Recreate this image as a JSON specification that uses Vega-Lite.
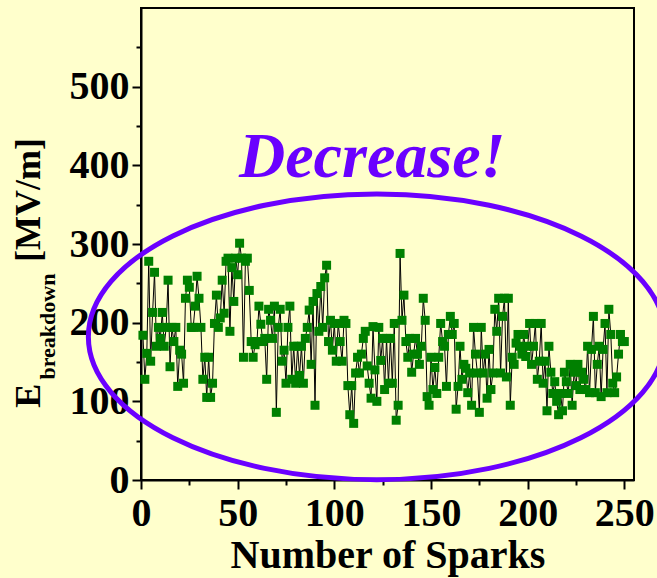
{
  "$schema": "https://vega.github.io/schema/vega-lite/v6.json",
  "width": 493,
  "height": 472,
  "autosize": {"type": "none"},
  "padding": {"left": 141, "top": 8, "right": 23, "bottom": 98},
  "background": "#FFFFCC",
  "config": {
    "view": {"stroke": "#000000", "strokeWidth": 2},
    "axis": {
      "domainColor": "#000000", "domainWidth": 2,
      "tickColor": "#000000", "tickWidth": 2,
      "labelFont": "Liberation Serif", "labelFontWeight": "bold", "labelFontSize": 40, "labelColor": "#000000",
      "titleFont": "Liberation Serif", "titleFontWeight": "bold", "titleFontSize": 40, "titleColor": "#000000",
      "grid": false, "labelOverlap": false, "labelFlush": false
    }
  },
  "datasets": {
    "sparks": [
      {"n":1,"e":184},{"n":2,"e":128},{"n":3,"e":161},{"n":4,"e":278},{"n":5,"e":151},{"n":6,"e":213},{"n":7,"e":264},{"n":8,"e":170},{"n":9,"e":194},{"n":10,"e":180},
      {"n":11,"e":213},{"n":12,"e":170},{"n":13,"e":194},{"n":14,"e":254},{"n":15,"e":144},{"n":16,"e":194},{"n":17,"e":176},{"n":18,"e":194},{"n":19,"e":119},{"n":20,"e":165},
      {"n":21,"e":160},{"n":22,"e":123},{"n":23,"e":231},{"n":24,"e":254},{"n":25,"e":245},{"n":26,"e":194},{"n":27,"e":194},{"n":28,"e":221},{"n":29,"e":259},{"n":30,"e":231},
      {"n":31,"e":194},{"n":32,"e":128},{"n":33,"e":156},{"n":34,"e":105},{"n":35,"e":156},{"n":36,"e":105},{"n":37,"e":123},{"n":38,"e":199},{"n":39,"e":235},{"n":40,"e":194},
      {"n":41,"e":206},{"n":42,"e":254},{"n":43,"e":212},{"n":44,"e":278},{"n":45,"e":282},{"n":46,"e":189},{"n":47,"e":270},{"n":48,"e":227},{"n":49,"e":282},{"n":50,"e":261},
      {"n":51,"e":301},{"n":52,"e":282},{"n":53,"e":156},{"n":54,"e":278},{"n":55,"e":282},{"n":56,"e":241},{"n":57,"e":176},{"n":58,"e":156},{"n":59,"e":172},{"n":60,"e":176},
      {"n":61,"e":221},{"n":62,"e":198},{"n":63,"e":176},{"n":64,"e":180},{"n":65,"e":128},{"n":66,"e":217},{"n":67,"e":203},{"n":68,"e":180},{"n":69,"e":221},{"n":70,"e":86},
      {"n":71,"e":194},{"n":72,"e":217},{"n":73,"e":151},{"n":74,"e":165},{"n":75,"e":123},{"n":76,"e":194},{"n":77,"e":221},{"n":78,"e":128},{"n":79,"e":170},{"n":80,"e":123},
      {"n":81,"e":170},{"n":82,"e":133},{"n":83,"e":170},{"n":84,"e":123},{"n":85,"e":180},{"n":86,"e":194},{"n":87,"e":216},{"n":88,"e":147},{"n":89,"e":227},{"n":90,"e":95},
      {"n":91,"e":237},{"n":92,"e":189},{"n":93,"e":246},{"n":94,"e":194},{"n":95,"e":257},{"n":96,"e":273},{"n":97,"e":176},{"n":98,"e":203},{"n":99,"e":165},{"n":100,"e":199},
      {"n":101,"e":151},{"n":102,"e":199},{"n":103,"e":176},{"n":104,"e":151},{"n":105,"e":203},{"n":106,"e":199},{"n":107,"e":120},{"n":108,"e":83},{"n":109,"e":120},{"n":110,"e":72},
      {"n":111,"e":136},{"n":112,"e":156},{"n":113,"e":136},{"n":114,"e":160},{"n":115,"e":180},{"n":116,"e":189},{"n":117,"e":145},{"n":118,"e":123},{"n":119,"e":104},{"n":120,"e":195},
      {"n":121,"e":140},{"n":122,"e":100},{"n":123,"e":194},{"n":124,"e":152},{"n":125,"e":180},{"n":126,"e":115},{"n":127,"e":180},{"n":128,"e":123},{"n":129,"e":180},{"n":130,"e":123},
      {"n":131,"e":199},{"n":132,"e":76},{"n":133,"e":95},{"n":134,"e":288},{"n":135,"e":203},{"n":136,"e":235},{"n":137,"e":176},{"n":138,"e":156},{"n":139,"e":180},{"n":140,"e":137},
      {"n":141,"e":160},{"n":142,"e":180},{"n":143,"e":160},{"n":144,"e":147},{"n":145,"e":170},{"n":146,"e":231},{"n":147,"e":203},{"n":148,"e":106},{"n":149,"e":95},{"n":150,"e":156},
      {"n":151,"e":115},{"n":152,"e":143},{"n":153,"e":110},{"n":154,"e":156},{"n":155,"e":199},{"n":156,"e":176},{"n":157,"e":170},{"n":158,"e":119},{"n":159,"e":185},{"n":160,"e":208},
      {"n":161,"e":185},{"n":162,"e":199},{"n":163,"e":90},{"n":164,"e":119},{"n":165,"e":170},{"n":166,"e":128},{"n":167,"e":147},{"n":168,"e":142},{"n":169,"e":111},{"n":170,"e":136},
      {"n":171,"e":95},{"n":172,"e":194},{"n":173,"e":160},{"n":174,"e":136},{"n":175,"e":86},{"n":176,"e":194},{"n":177,"e":136},{"n":178,"e":160},{"n":179,"e":104},{"n":180,"e":166},
      {"n":181,"e":115},{"n":182,"e":136},{"n":183,"e":217},{"n":184,"e":189},{"n":185,"e":231},{"n":186,"e":136},{"n":187,"e":208},{"n":188,"e":231},{"n":189,"e":131},{"n":190,"e":231},
      {"n":191,"e":95},{"n":192,"e":156},{"n":193,"e":147},{"n":194,"e":174},{"n":195,"e":185},{"n":196,"e":170},{"n":197,"e":160},{"n":198,"e":185},{"n":199,"e":157},{"n":200,"e":170},
      {"n":201,"e":199},{"n":202,"e":147},{"n":203,"e":170},{"n":204,"e":199},{"n":205,"e":128},{"n":206,"e":151},{"n":207,"e":199},{"n":208,"e":123},{"n":209,"e":151},{"n":210,"e":88},
      {"n":211,"e":170},{"n":212,"e":137},{"n":213,"e":110},{"n":214,"e":125},{"n":215,"e":100},{"n":216,"e":83},{"n":217,"e":110},{"n":218,"e":88},{"n":219,"e":137},{"n":220,"e":125},
      {"n":221,"e":110},{"n":222,"e":147},{"n":223,"e":95},{"n":224,"e":137},{"n":225,"e":120},{"n":226,"e":147},{"n":227,"e":115},{"n":228,"e":137},{"n":229,"e":128},{"n":230,"e":115},
      {"n":231,"e":170},{"n":232,"e":111},{"n":233,"e":166},{"n":234,"e":208},{"n":235,"e":111},{"n":236,"e":147},{"n":237,"e":170},{"n":238,"e":106},{"n":239,"e":166},{"n":240,"e":199},
      {"n":241,"e":111},{"n":242,"e":217},{"n":243,"e":185},{"n":244,"e":123},{"n":245,"e":111},{"n":246,"e":131},{"n":247,"e":160},{"n":248,"e":185},{"n":249,"e":176},{"n":250,"e":176}
    ],
    "ellipse": [{"n": 122, "e": 182}],
    "note": [{"n": 119.6, "e": 385, "label": "Decrease!"}],
    "ytitle": [
      {"n": -52, "e": 107, "label": "E", "size": "big"},
      {"n": -44.5, "e": 195, "label": "breakdown", "size": "small"},
      {"n": -52, "e": 356, "label": "[MV/m]", "size": "big"}
    ]
  },
  "layer": [
    {
      "data": {"name": "sparks"},
      "mark": {"type": "line", "color": "#000000", "strokeWidth": 1},
      "encoding": {
        "x": {
          "field": "n", "type": "quantitative",
          "scale": {"domain": [0, 255], "nice": false, "zero": false},
          "axis": {
            "title": "Number of Sparks",
            "values": [0, 25, 50, 75, 100, 125, 150, 175, 200, 225, 250],
            "labelExpr": "datum.value % 50 === 0 ? datum.label : ''",
            "tickSize": {"condition": {"test": "datum.value % 50 !== 0", "value": 5}, "value": 9},
            "labelPadding": 4,
            "titlePadding": 2
          }
        },
        "y": {
          "field": "e", "type": "quantitative",
          "scale": {"domain": [0, 600], "nice": false},
          "axis": {
            "title": null,
            "values": [0, 50, 100, 150, 200, 250, 300, 350, 400, 450, 500, 550],
            "labelExpr": "datum.value % 100 === 0 ? datum.label : ''",
            "tickSize": {"condition": {"test": "datum.value % 100 !== 0", "value": 5}, "value": 9},
            "labelPadding": 3
          }
        }
      }
    },
    {
      "data": {"name": "sparks"},
      "mark": {"type": "point", "shape": "square", "filled": true, "size": 81, "color": "#008000", "opacity": 1},
      "encoding": {
        "x": {"field": "n", "type": "quantitative"},
        "y": {"field": "e", "type": "quantitative"}
      }
    },
    {
      "data": {"name": "ellipse"},
      "mark": {
        "type": "point",
        "shape": "M -1 0 C -1 -0.2723 -0.5523 -0.495 0 -0.495 C 0.5523 -0.495 1 -0.2723 1 0 C 1 0.2723 0.5523 0.495 0 0.495 C -0.5523 0.495 -1 0.2723 -1 0 Z",
        "size": 332929,
        "filled": false,
        "stroke": "#6A00FF",
        "strokeWidth": 5,
        "opacity": 1
      },
      "encoding": {
        "x": {"field": "n", "type": "quantitative"},
        "y": {"field": "e", "type": "quantitative"}
      }
    },
    {
      "data": {"name": "note"},
      "mark": {
        "type": "text",
        "font": "Liberation Serif",
        "fontWeight": "bold",
        "fontStyle": "italic",
        "fontSize": 64,
        "color": "#6A00FF",
        "align": "center",
        "baseline": "alphabetic"
      },
      "encoding": {
        "x": {"field": "n", "type": "quantitative"},
        "y": {"field": "e", "type": "quantitative"},
        "text": {"field": "label"}
      }
    },
    {
      "data": {"name": "ytitle"},
      "mark": {
        "type": "text",
        "font": "Liberation Serif",
        "fontWeight": "bold",
        "color": "#000000",
        "angle": 270,
        "align": "center",
        "baseline": "alphabetic"
      },
      "encoding": {
        "x": {"field": "n", "type": "quantitative"},
        "y": {"field": "e", "type": "quantitative"},
        "text": {"field": "label"},
        "size": {
          "field": "size", "type": "nominal",
          "scale": {"domain": ["big", "small"], "range": [36, 22]},
          "legend": null
        }
      }
    }
  ]
}
